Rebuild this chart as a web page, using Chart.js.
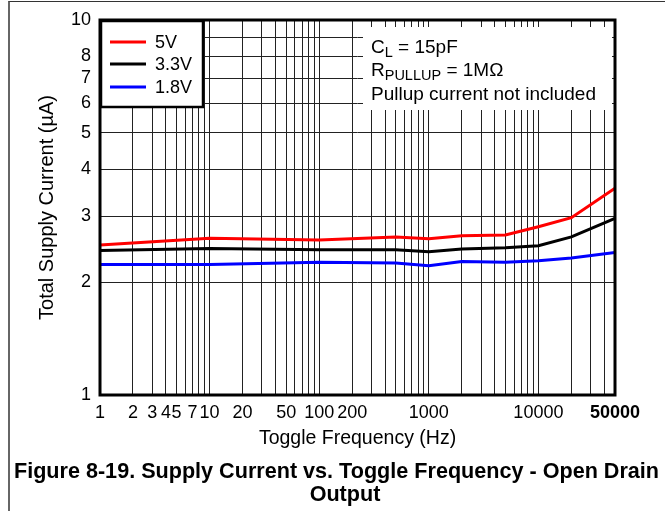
<!DOCTYPE html>
<html>
<head>
<meta charset="utf-8">
<script src="https://cdn.jsdelivr.net/npm/chart.js@4/dist/chart.umd.min.js"></script>
<style>
  html, body { margin: 0; padding: 0; background: #fff; overflow: hidden; }
  body { width: 665px; height: 511px; position: relative; font-family: "Liberation Sans", Arial, sans-serif; }
  #frame { position: absolute; left: 8px; top: 1px; width: 700px; height: 600px; border-left: 2px solid #666; border-top: 1px solid #333; }
  #wrap { position: absolute; left: 0; top: 0; width: 665px; height: 511px; }
  .cap { position: absolute; left: 0; font-weight: bold; font-size: 21.6px; line-height: 23px; text-align: center; color: #000; white-space: nowrap; }
</style>
</head>
<body>
<div id="frame"></div>
<div id="wrap"><canvas id="c" width="665" height="511"></canvas></div>
<div class="cap" style="top:459px;width:673px;">Figure 8-19. Supply Current vs. Toggle Frequency - Open Drain</div>
<div class="cap" style="top:482px;width:690px;">Output</div>
<script>
// ---- data ----
const freqs  = [1, 10, 100, 500, 1000, 2000, 5000, 10000, 20000, 50000];
const i5V    = [2.51, 2.62, 2.59, 2.64, 2.61, 2.66, 2.67, 2.81, 2.97, 3.56];
const i3V3   = [2.43, 2.46, 2.44, 2.44, 2.41, 2.45, 2.47, 2.50, 2.64, 2.96];
const i1V8   = [2.23, 2.23, 2.26, 2.25, 2.21, 2.27, 2.26, 2.28, 2.32, 2.40];
const seriesNames  = ['5V', '3.3V', '1.8V'];
const seriesColors = ['#ff0000', '#000000', '#0000ff'];
const xTickLabels = [1, 2, 3, 4, 5, 7, 10, 20, 50, 100, 200, 1000, 10000, 50000];
const yTickLabels = [1, 2, 3, 4, 5, 6, 7, 8, 10];
const xMin = 1, xMax = 50000, yMin = 1, yMax = 10;
const noteLines = ['C|L| = 15pF', 'R|PULLUP| = 1MΩ', 'Pullup current not included'];

// gridline positions (1..9 per decade)
const xGrid = [];
for (let d = 1; d <= 10000; d *= 10) for (let m = 1; m <= 9; m++) if (m * d <= xMax) xGrid.push(m * d);
const yGrid = [];
for (let m = 1; m <= 10; m++) yGrid.push(m);

const FONT = '"Liberation Sans", Arial, sans-serif';
const mk = (ys) => freqs.map((f, i) => ({ x: f, y: ys[i] }));
const allSeries = [i5V, i3V3, i1V8];

const decor = {
  id: 'decor',
  beforeDatasetsDraw(chart) {
    const ctx = chart.ctx;
    ctx.save();
    // annotation box
    ctx.fillStyle = '#fff';
    ctx.fillRect(363, 27, 249, 83);
    ctx.fillStyle = '#000';
    ctx.textBaseline = 'alphabetic';
    const baselines = [53, 76, 100];
    noteLines.forEach((line, i) => {
      const parts = line.split('|');
      let x = 371;
      parts.forEach((p, j) => {
        if (j % 2 === 1) {
          ctx.font = '14.5px ' + FONT;
          ctx.fillText(p, x, baselines[i] + 4);
        } else {
          ctx.font = '19px ' + FONT;
          ctx.fillText(p, x, baselines[i]);
        }
        x += ctx.measureText(p).width;
      });
    });
    ctx.restore();
  },
  afterDraw(chart) {
    const ctx = chart.ctx;
    const a = chart.chartArea;
    ctx.save();
    ctx.strokeStyle = '#000';
    ctx.lineWidth = 3;
    ctx.strokeRect(a.left, a.top, a.right - a.left, a.bottom - a.top);
    // legend box
    ctx.fillStyle = '#fff';
    ctx.fillRect(101, 21, 102, 86);
    ctx.lineWidth = 2.5;
    ctx.strokeRect(101, 21, 102, 86);
    const ys = [42, 64, 87];
    seriesNames.forEach((n, i) => {
      ctx.strokeStyle = seriesColors[i];
      ctx.lineWidth = 3;
      ctx.beginPath();
      ctx.moveTo(110, ys[i]);
      ctx.lineTo(146, ys[i]);
      ctx.stroke();
      ctx.fillStyle = '#000';
      ctx.font = '18px ' + FONT;
      ctx.textBaseline = 'middle';
      ctx.fillText(n, 155, ys[i] + 1);
    });
    ctx.restore();
  }
};

new Chart(document.getElementById('c'), {
  type: 'line',
  data: {
    datasets: seriesNames.map((n, i) => ({
      label: n,
      data: mk(allSeries[i]),
      borderColor: seriesColors[i],
      backgroundColor: seriesColors[i],
      borderWidth: 3,
      pointRadius: 0,
      tension: 0,
      fill: false
    }))
  },
  options: {
    responsive: false,
    animation: false,
    layout: { padding: { left: 0, top: 20, right: 50, bottom: 61 } },
    plugins: { legend: { display: false }, tooltip: { enabled: false } },
    scales: {
      x: {
        type: 'logarithmic',
        min: xMin, max: xMax,
        afterBuildTicks: (s) => { s.ticks = xGrid.map(v => ({ value: v })); },
        afterFit: (s) => { s.height = 55; },
        grid: { color: '#222', lineWidth: 1, drawTicks: false },
        border: { display: false },
        ticks: {
          autoSkip: false, maxRotation: 0, minRotation: 0, padding: 7, color: '#000',
          font: (c) => ({ family: FONT, size: 18, weight: (c.tick && c.tick.value === 50000) ? 'bold' : 'normal' }),
          callback: (v) => xTickLabels.includes(v) ? String(v) : ''
        },
        title: { display: true, text: 'Toggle Frequency (Hz)', color: '#000', font: { family: FONT, size: 19.5 }, padding: { top: 0, bottom: 0 } }
      },
      y: {
        type: 'logarithmic',
        min: yMin, max: yMax,
        afterBuildTicks: (s) => { s.ticks = yGrid.map(v => ({ value: v })); },
        afterFit: (s) => { s.width = 100; },
        grid: { color: '#222', lineWidth: 1, drawTicks: false },
        border: { display: false },
        ticks: {
          autoSkip: false, padding: 9, color: '#000',
          font: { family: FONT, size: 18 },
          callback: (v) => yTickLabels.includes(v) ? String(v) : ''
        },
        title: { display: true, text: 'Total Supply Current (µA)', color: '#000', font: { family: FONT, size: 20 }, padding: { top: 35, bottom: 0 } }
      }
    }
  },
  plugins: [decor]
});
</script>
</body>
</html>
